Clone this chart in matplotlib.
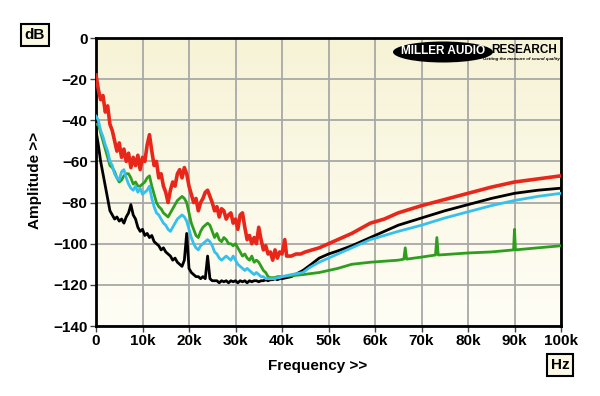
import numpy as np
import matplotlib
matplotlib.use("Agg")
import matplotlib.pyplot as plt
from matplotlib.patches import Ellipse

# frequency grid (kHz) for the noisy low part, 0 .. 39.5 kHz
f_low = [0, 0.5, 1, 1.5, 2, 2.5, 3, 3.5, 4, 4.5, 5, 5.5, 6, 6.5, 7, 7.5, 8, 8.5, 9, 9.5,
         10, 10.5, 11, 11.5, 12, 12.5, 13, 13.5, 14, 14.5, 15, 15.5, 16, 16.5, 17, 17.5, 18, 18.5, 19, 19.5,
         20, 20.5, 21, 21.5, 22, 22.5, 23, 23.5, 24, 24.5, 25, 25.5, 26, 26.5, 27, 27.5, 28, 28.5, 29, 29.5,
         30, 30.5, 31, 31.5, 32, 32.5, 33, 33.5, 34, 34.5, 35, 35.5, 36, 36.5, 37, 37.5, 38, 38.5, 39, 39.5]

red_low = [-18, -25, -30, -28, -36, -33, -42, -45, -50, -55, -51, -58, -54, -60, -56, -63, -58, -62, -57, -64,
           -58, -60, -52, -47, -55, -62, -60, -68, -66, -72, -75, -80, -74, -70, -72, -66, -64, -68, -63, -66,
           -72, -76, -80, -78, -84, -80, -78, -75, -74, -77, -80, -84, -82, -87, -83, -84, -88, -86, -85, -90,
           -88, -93, -86, -85, -92, -98, -96, -100, -97, -100, -92, -98, -103, -101, -105, -104, -108, -103, -107, -104]
red_hi_f = [40, 40.6, 41, 42, 43, 44, 45, 48, 50, 52, 55, 59, 62, 65, 70, 75, 80, 85, 90, 95, 100]
red_hi = [-105, -98, -106, -106, -105, -105, -104, -102, -100, -98, -95, -90, -88, -85, -81.5, -78.5, -75.5,
          -72.5, -70, -68.5, -67]

cyan_low = [-38, -40, -45, -48, -52, -55, -60, -62, -66, -68, -69, -65, -64, -68, -71, -73, -74, -72, -75, -73,
            -76, -75, -74, -72, -78, -82, -85, -86, -88, -90, -91, -93, -94, -92, -90, -88, -87, -86, -87, -89,
            -93, -97, -100, -102, -103, -101, -100, -99, -98, -99, -101, -104, -105, -107, -108, -107, -106, -107, -108, -106,
            -108, -110, -111, -112, -113, -112, -113, -114, -115, -114, -115, -116, -116, -117, -117, -117, -117, -117, -116.5, -116.5]
cyan_hi_f = [40, 42, 44.5, 46, 48, 50, 52, 55, 59, 62, 65, 70, 75, 80, 85, 90, 95, 100]
cyan_hi = [-116, -115, -114, -111.5, -109, -107, -105, -102, -98, -96, -94, -91, -87.5, -84.5, -81.5, -79, -77, -75.5]

green_low = [-42, -42, -46, -50, -54, -58, -62, -63, -65, -68, -70, -69, -67, -66, -66, -68, -71, -70, -72, -72,
             -71, -70, -68, -67, -72, -76, -80, -82, -83, -85, -86, -87, -85, -83, -81, -79, -78, -77, -78, -80,
             -85, -90, -93, -96, -97, -94, -92, -91, -90, -91, -94, -97, -95, -98, -99, -97, -98, -100, -100, -101,
             -100, -102, -104, -106, -105, -107, -108, -106, -109, -108, -109, -111, -113, -114, -116, -116.5, -116.5, -116.5, -116, -116]
green_hi_f = [40, 44.5, 48, 52, 55, 59, 62, 65, 66.2, 66.5, 66.8, 70, 73, 73.3, 73.6, 80, 85, 89.8, 90, 90.2, 95, 100]
green_hi = [-116, -115, -114, -112, -110, -109, -108.5, -108, -107.5, -102, -107.5, -106.5, -105.5, -97, -105.5,
            -104.5, -104, -103, -93, -103, -102, -101]

black_low = [-45, -52, -60, -66, -72, -78, -84, -86, -88, -87, -89, -88, -90, -87, -85, -81, -86, -88, -92, -94,
             -93, -96, -95, -97, -96, -99, -100, -101, -103, -102, -104, -105, -106, -108, -107, -109, -110, -111, -108, -95,
             -112, -114, -115, -116, -116, -117, -116, -117, -106, -117, -118, -118, -118, -119, -118, -118.5, -118, -119, -118, -118.5,
             -118, -119, -118, -118.5, -118, -119, -118, -118.5, -118, -118, -118.5, -118, -118, -117.5, -118, -117.5, -117.5, -117, -117.5, -117]
black_hi_f = [40, 42, 44.5, 46, 48, 50, 52, 55, 59, 62, 65, 70, 75, 80, 85, 90, 95, 100]
black_hi = [-117, -116, -113, -110.5, -107, -105, -103.5, -101, -97, -94, -91, -87.5, -84, -81, -78, -75.5, -74, -73]

x_ticks = [0, 10, 20, 30, 40, 50, 60, 70, 80, 90, 100]
x_labels = ["0", "10k", "20k", "30k", "40k", "50k", "60k", "70k", "80k", "90k", "100k"]
y_ticks = [0, -20, -40, -60, -80, -100, -120, -140]

plt.rcParams['font.family'] = ['Liberation Sans', 'DejaVu Sans']

W, H = 600, 396
fig = plt.figure(figsize=(6, 3.96), dpi=100, facecolor="white")
ax = fig.add_axes([96 / W, 1 - 326 / H, (561 - 96) / W, (326 - 38) / H])

# cream gradient background
grad = np.linspace(0, 1, 256).reshape(-1, 1)
top = np.array([247, 243, 214]) / 255
bot = np.array([255, 254, 246]) / 255
img = top * (1 - grad[..., None]) + bot * grad[..., None]
img = img.reshape(256, 1, 3)
ax.imshow(img, extent=[0, 100, -140, 0], aspect="auto", zorder=0)

ax.set_xlim(0, 100)
ax.set_ylim(-140, 0)
ax.grid(True, color="#a8a8a8", linewidth=1.3, zorder=1)
ax.set_axisbelow(True)

ax.plot(f_low + red_hi_f, red_low + red_hi, color="#e8261a", lw=2.6, zorder=3)
ax.plot(f_low + black_hi_f, black_low + black_hi, color="black", lw=2.0, zorder=4)
ax.plot(f_low + cyan_hi_f, cyan_low + cyan_hi, color="#36c0ee", lw=2.0, zorder=5)
ax.plot(f_low + green_hi_f, green_low + green_hi, color="#2e9e1e", lw=2.0, zorder=4.5)

ax.set_xticks(x_ticks)
ax.set_xticklabels(x_labels)
ax.set_yticks(y_ticks)
ax.tick_params(direction="out", length=4, width=1, color="#444444", labelsize=11, pad=2)
for lab in ax.get_xticklabels() + ax.get_yticklabels():
    lab.set_fontweight("bold")
for s in ax.spines.values():
    s.set_linewidth(2)
    s.set_color("black")

fig.text(318 / W, 1 - 366 / H, "Frequency >>", ha="center", va="center", fontsize=11, fontweight="bold")
fig.text(35 / W, 1 - 180 / H, "Amplitude >>", ha="center", va="center", rotation=90, fontsize=11, fontweight="bold")

box = dict(boxstyle="square,pad=0.25", facecolor="#fbf8e3", edgecolor="black", linewidth=1.5)
fig.text(35 / W, 1 - 35 / H, "dB", ha="center", va="center", fontsize=11, fontweight="bold", bbox=box)
fig.text(560 / W, 1 - 365 / H, "Hz", ha="center", va="center", fontsize=11, fontweight="bold", bbox=box)

# logo
ell = Ellipse((443 / W, 1 - 52 / H), 100 / W, 21 / H, transform=fig.transFigure, facecolor="black", zorder=10)
fig.add_artist(ell)
fig.text(443 / W, 1 - 51 / H, "MILLER AUDIO", ha="center", va="center", color="white",
         fontsize=8.5, fontweight="bold", zorder=11)
fig.text(524 / W, 1 - 50 / H, "RESEARCH", ha="center", va="center", color="black",
         fontsize=8.5, fontweight="bold", zorder=11)
fig.text(521 / W, 1 - 59 / H, "Getting the measure of sound quality", ha="center", va="center",
         color="black", fontsize=3.2, fontweight="bold", style="italic", zorder=11)

fig.savefig("out.png", dpi=100, facecolor="white")
